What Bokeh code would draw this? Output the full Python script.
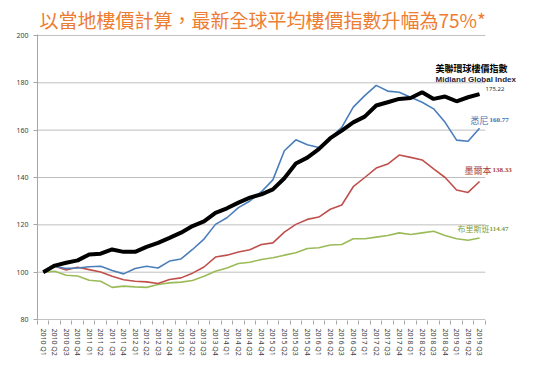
from bokeh.plotting import figure
from bokeh.models import FixedTicker, Label
from bokeh.embed import file_html
from bokeh.resources import INLINE

quarters = [f"{y} Q{q}" for y in range(2010, 2020) for q in range(1, 5)][:39]

midland = [100, 102.8, 104.0, 105.0, 107.5, 107.8, 109.6, 108.6, 108.6, 110.7,
           112.4, 114.5, 116.7, 119.5, 121.5, 125.1, 127.0, 129.4, 131.5, 132.9,
           135.0, 139.7, 145.9, 148.4, 152.0, 156.6, 159.8, 163.3, 165.7, 170.4,
           171.8, 173.2, 173.6, 176.0, 173.2, 174.2, 172.2, 173.9, 175.22]
sydney = [100, 102.5, 101.6, 101.8, 102.3, 102.5, 100.7, 99.3, 101.6, 102.5,
          101.8, 104.7, 105.6, 109.6, 114.0, 120.2, 123.0, 127.3, 130.1, 134.0,
          139.0, 151.3, 155.9, 153.8, 152.7, 156.8, 161.2, 169.7, 174.6, 178.9,
          176.5, 176.0, 173.9, 171.8, 169.0, 163.3, 155.8, 155.3, 160.77]
melbourne = [100, 102.5, 100.9, 102.1, 101.1, 100.1, 98.3, 96.8, 96.2, 95.9,
             95.2, 96.9, 97.6, 99.6, 102.2, 106.4, 107.2, 108.5, 109.5, 111.7,
             112.4, 116.9, 120.2, 122.3, 123.3, 126.6, 128.4, 136.1, 140.0, 144.0,
             145.7, 149.5, 148.5, 147.4, 143.6, 140.0, 134.7, 133.7, 138.33]
brisbane = [100, 100.4, 98.7, 98.4, 96.6, 96.2, 93.6, 94.1, 93.8, 93.6,
            94.8, 95.5, 95.8, 96.5, 98.3, 100.4, 101.8, 103.7, 104.2, 105.4,
            106.1, 107.2, 108.2, 110.0, 110.3, 111.5, 111.7, 114.1, 114.1, 114.8,
            115.5, 116.6, 115.9, 116.6, 117.3, 115.5, 114.1, 113.5, 114.47]
y_ticks = [80, 100, 120, 140, 160, 180, 200]

title_text = "以當地樓價計算，最新全球平均樓價指數升幅為75%*"

n = len(quarters)
idx = list(range(n))
last = n - 1

CJK = "Noto Sans CJK TC"
# the frame extends to the right so the end labels have room; the chart area
# itself (gridlines, axis) stops half a category after the last quarter
p = figure(width=542, height=373, output_backend="svg", toolbar_location=None,
           x_range=(-0.5, n - 0.5 + 4.46), y_range=(y_ticks[0] - 0.4, y_ticks[-1] + 0.4),
           min_border_left=37, min_border_right=6, min_border_top=34, min_border_bottom=53)
p.title.text = title_text
p.title.text_font = CJK
p.title.text_font_size = "19px"
p.title.text_font_style = "normal"
p.title.text_color = "#ED7D31"
p.title.align = "left"
p.title.offset = 2
p.title.standoff = 4
p.outline_line_color = None
p.background_fill_color = "white"

blue = "#4A7EBB"
red = "#C0504D"
green = "#9BBB59"
grid = "#BFBFBF"

# gridlines (and the category-axis line at the bottom)
p.segment(x0=[-0.5] * len(y_ticks), x1=[n - 0.5] * len(y_ticks), y0=y_ticks, y1=y_ticks,
          line_color=grid, line_width=1)

p.line(idx, brisbane, line_color=green, line_width=1.6)
p.line(idx, melbourne, line_color=red, line_width=1.6)
p.line(idx, sydney, line_color=blue, line_width=1.6)
p.line(idx, midland, line_color="black", line_width=4)

# axes
p.xaxis.ticker = FixedTicker(ticks=idx, minor_ticks=[i + 0.5 for i in range(-1, n)])
p.xaxis.major_label_overrides = {i: q for i, q in enumerate(quarters)}
p.xaxis.major_label_orientation = "vertical"
p.xaxis.major_tick_out = 0
p.xaxis.major_tick_in = 0
p.xaxis.minor_tick_out = 4
p.xaxis.minor_tick_in = 0
p.xaxis.minor_tick_line_color = "#A6A6A6"
p.xaxis.axis_line_color = None
p.xaxis.major_label_text_font_size = "7px"
p.xaxis.major_label_text_font = "Noto Sans"
p.xaxis.major_label_text_color = "#404040"
p.xaxis.major_label_standoff = 4

p.yaxis.ticker = FixedTicker(ticks=y_ticks)
p.yaxis.major_tick_out = 4
p.yaxis.major_tick_in = 0
p.yaxis.minor_tick_line_color = None
p.yaxis.major_tick_line_color = "#A6A6A6"
p.yaxis.axis_line_color = "#A6A6A6"
p.yaxis.major_label_text_font_size = "7px"
p.yaxis.major_label_text_font = "Noto Sans"
p.yaxis.major_label_text_color = "#404040"
p.yaxis.major_label_standoff = 5

p.xgrid.grid_line_color = None
p.ygrid.grid_line_color = None


def lab(text, y, dx, dy, color, size, bold=False, font=CJK):
    p.add_layout(Label(x=last, y=y, x_offset=dx, y_offset=dy, text=text,
                       text_color=color, text_font=font, text_font_size=size,
                       text_font_style="bold" if bold else "normal",
                       text_align="left", text_baseline="middle"))


lab("美聯環球樓價指數", midland[-1], -44, 26, "black", "9px", True)
lab("Midland Global Index", midland[-1], -44, 15, "#1F1F3A", "8px", True, "Liberation Sans")
lab(f"{midland[-1]:.2f}", midland[-1], 6, 5, "#333333", "6px", False, "Noto Sans")

lab("悉尼", sydney[-1], -9, 8, "#3A6EAE", "9px")
lab(f"{sydney[-1]:.2f}", sydney[-1], 10, 8, "#3A6EAE", "7px", True, "Liberation Serif")
lab("墨爾本", melbourne[-1], -15, 11, "#A8403D", "9px")
lab(f"{melbourne[-1]:.2f}", melbourne[-1], 13, 11, "#A8403D", "7px", True, "Liberation Serif")
lab("布里斯班", brisbane[-1], -22, 9, "#7F9E3E", "8px")
lab(f"{brisbane[-1]:.2f}", brisbane[-1], 10, 9, "#7F9E3E", "7px", True, "Liberation Serif")

open("out.html", "w").write(file_html(p, INLINE))
